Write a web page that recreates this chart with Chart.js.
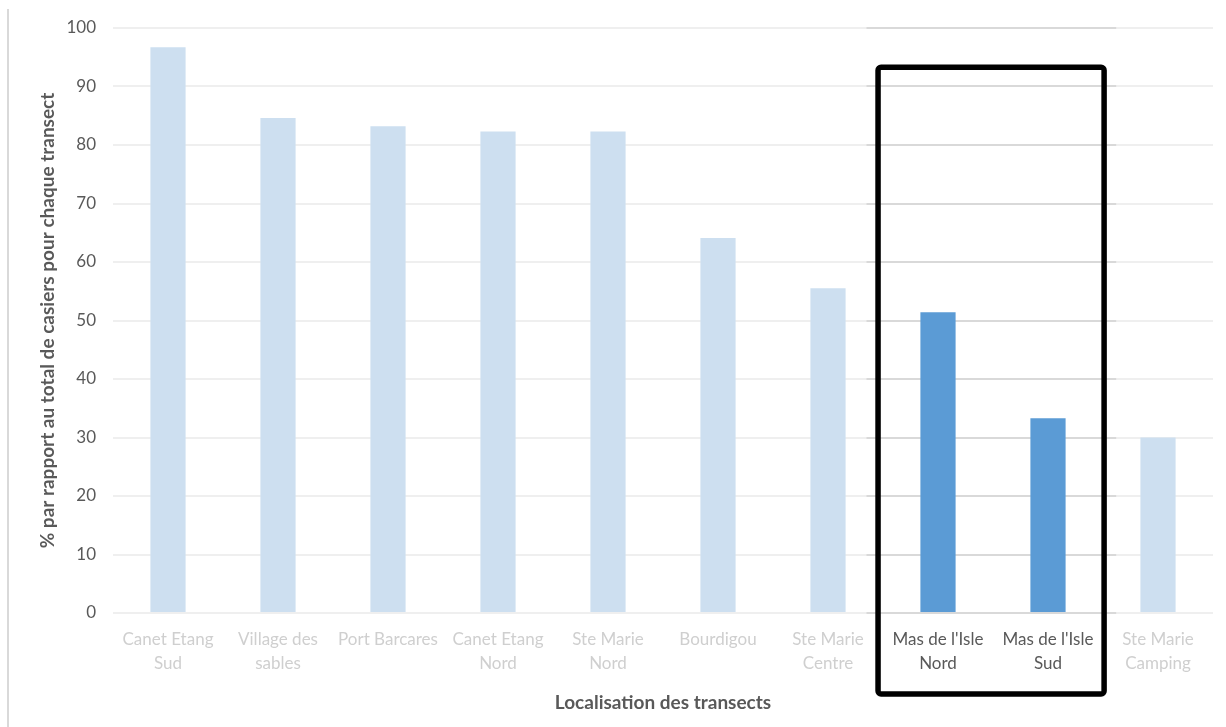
<!DOCTYPE html>
<html>
<head>
<meta charset="utf-8">
<script src="https://cdn.jsdelivr.net/npm/chart.js@4.4.0/dist/chart.umd.min.js"></script>
<style>
  html, body { margin: 0; padding: 0; background: #fff; }
  #wrap { width: 1226px; height: 727px; position: relative; }
</style>
</head>
<body>
<div id="wrap"><canvas id="chart"></canvas></div>
<script>
// transects, % of traps per transect
const transects = [
  ['Canet Etang', 'Sud'],
  ['Village des', 'sables'],
  'Port Barcares',
  ['Canet Etang', 'Nord'],
  ['Ste Marie', 'Nord'],
  'Bourdigou',
  ['Ste Marie', 'Centre'],
  ["Mas de l'Isle", 'Nord'],
  ["Mas de l'Isle", 'Sud'],
  ['Ste Marie', 'Camping']
];
const pourcentages = [96.7, 84.6, 83.2, 82.3, 82.3, 64.1, 55.5, 51.4, 33.3, 30.0];
const highlighted = [false, false, false, false, false, false, false, true, true, false];
const yTicks = [0, 10, 20, 30, 40, 50, 60, 70, 80, 90, 100];

const lightBar = '#cddff0';
const darkBar = '#5b9bd5';
const fontFam = 'Lato, "Open Sans", sans-serif';

// first/last highlighted index
const hiFirst = highlighted.indexOf(true);
const hiLast = highlighted.lastIndexOf(true);

const decor = {
  id: 'decor',
  beforeDatasetsDraw(chart) {
    const ctx = chart.ctx, x = chart.scales.x, y = chart.scales.y;
    const step = x.getPixelForValue(1) - x.getPixelForValue(0);
    const x0 = x.getPixelForValue(hiFirst) - step * 0.65;
    const x1 = x.getPixelForValue(hiLast) + step * 0.62;
    ctx.save();
    ctx.strokeStyle = '#d9d9d9';
    ctx.lineWidth = 2;
    yTicks.forEach(v => {
      const py = Math.round(y.getPixelForValue(v));
      ctx.beginPath();
      ctx.moveTo(x0, py);
      ctx.lineTo(x1, py);
      ctx.stroke();
    });
    ctx.restore();
  },
  afterDraw(chart) {
    const ctx = chart.ctx, x = chart.scales.x, y = chart.scales.y;
    const step = x.getPixelForValue(1) - x.getPixelForValue(0);
    // left frame line
    ctx.save();
    ctx.strokeStyle = '#d9d9d9';
    ctx.lineWidth = 2;
    ctx.beginPath();
    ctx.moveTo(8, 9);
    ctx.lineTo(8, chart.height);
    ctx.stroke();
    // highlight box
    const bx0 = x.getPixelForValue(hiFirst) - step * 0.545;
    const bx1 = x.getPixelForValue(hiLast) + step * 0.51;
    const by0 = y.getPixelForValue(93.3);
    const by1 = chart.height - 33;
    ctx.strokeStyle = '#000';
    ctx.lineWidth = 5.5;
    ctx.lineJoin = 'round';
    ctx.beginPath();
    ctx.roundRect(bx0, by0, bx1 - bx0, by1 - by0, 3);
    ctx.stroke();
    ctx.restore();
  }
};

new Chart(document.getElementById('chart'), {
  type: 'bar',
  data: {
    labels: transects,
    datasets: [{
      data: pourcentages,
      backgroundColor: highlighted.map(h => h ? darkBar : lightBar),
      borderWidth: 0,
      categoryPercentage: 1,
      barPercentage: 0.32
    }]
  },
  options: {
    responsive: true,
    maintainAspectRatio: false,
    animation: false,
    layout: { padding: { top: 28, right: 13, left: 36, bottom: 0 } },
    plugins: { legend: { display: false }, tooltip: { enabled: false } },
    scales: {
      x: {
        afterFit: s => { s.height = 114; },
        grid: { display: false },
        border: { display: false },
        ticks: {
          maxRotation: 0,
          autoSkip: false,
          padding: 7,
          font: { family: fontFam, size: 17, lineHeight: 1.4 },
          color: ctx => highlighted[ctx.index] ? '#595959' : '#cfcfcf'
        },
        title: {
          display: true,
          text: 'Localisation des transects',
          color: '#595959',
          font: { family: fontFam, size: 19, weight: 'bold' },
          padding: { top: 0, bottom: 13 }
        }
      },
      y: {
        min: 0,
        max: 100,
        afterFit: s => { s.width = 77; },
        afterBuildTicks: s => { s.ticks = yTicks.map(v => ({ value: v })); },
        grid: { color: '#efefef', lineWidth: 2, drawTicks: false },
        border: { display: false },
        ticks: {
          padding: 17,
          font: { family: fontFam, size: 17 },
          color: '#595959'
        },
        title: {
          display: true,
          text: '% par rapport au total de casiers pour chaque transect',
          color: '#595959',
          font: { family: fontFam, size: 19, weight: 'bold' },
          padding: { top: 0, bottom: 0 }
        }
      }
    }
  },
  plugins: [decor]
});
</script>
</body>
</html>
